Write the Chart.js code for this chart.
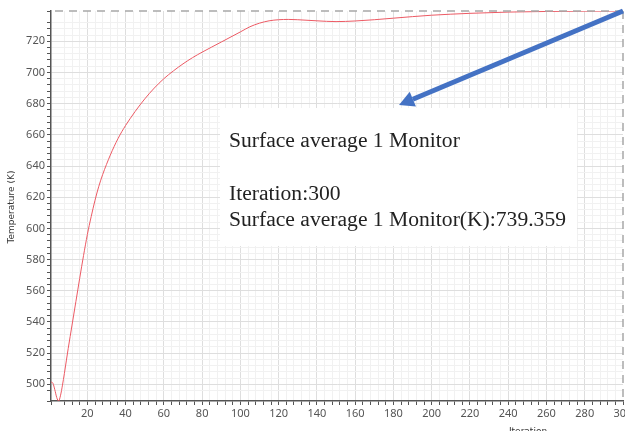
<!DOCTYPE html>
<html>
<head>
<meta charset="utf-8">
<script src="https://cdn.jsdelivr.net/npm/chart.js@4.4.0/dist/chart.umd.min.js"></script>
<style>
  html, body { margin: 0; padding: 0; background: #fff; }
  #wrap { width: 625px; height: 431px; position: relative; }
</style>
</head>
<body>
<div id="wrap"><canvas id="chart" width="625" height="431"></canvas></div>
<script>
// monitor history
const iterations = [1, 2, 3, 4, 5, 6, 7, 8, 10, 12, 14, 16, 18, 20, 22, 24, 26, 28, 30, 32, 34, 36, 38, 40, 45, 50, 55, 60, 65, 70, 75, 80, 90, 100, 105, 110, 115, 120, 125, 130, 140, 150, 160, 170, 180, 190, 200, 220, 240, 260, 280, 300];
const temperatures = [501.5, 500.7, 496.5, 491.5, 489.3, 493, 499.5, 507, 523, 538, 553, 568, 582.5, 596, 607.5, 618, 627, 634.5, 641, 647, 652.5, 657.5, 662, 666, 675, 683, 690, 696, 701, 705.5, 709.5, 713, 719.5, 726, 729.3, 731.6, 733.1, 733.8, 734, 733.8, 733.1, 732.6, 733, 733.8, 734.8, 735.8, 736.7, 737.9, 738.7, 739.1, 739.3, 739.359];

const xRange = [1, 300];
const yRange = [489.3, 739.4];

const noteTitle = "Surface average 1 Monitor";
const noteLines = ["Iteration:300", "Surface average 1 Monitor(K):739.359"];

const points = iterations.map((it, i) => ({ x: it, y: temperatures[i] }));

// major lines every 20, lighter minor lines in between
function gridColor(ctx) {
  const v = ctx.tick ? ctx.tick.value : 0;
  const s = ctx.scale;
  if (Math.abs(v - s.min) < 0.01 || Math.abs(v - s.max) < 0.01) return "rgba(0,0,0,0)";
  return Math.abs(v % 20) < 0.01 ? "#dedede" : "#f1f1f1";
}

const extras = {
  id: "extras",
  afterDraw(chart) {
    const ctx = chart.ctx;
    const a = chart.chartArea;
    ctx.save();

    // dashed frame on top and right
    ctx.strokeStyle = "#a8a8a8";
    ctx.lineWidth = 1.5;
    ctx.setLineDash([8, 6]);
    ctx.beginPath();
    ctx.moveTo(a.left + 4, a.top);
    ctx.lineTo(a.right, a.top);
    ctx.moveTo(a.right, a.top);
    ctx.lineTo(a.right, a.bottom);
    ctx.stroke();
    ctx.setLineDash([]);

    // axis titles
    ctx.fillStyle = "#333";
    ctx.font = "9px 'DejaVu Sans'";
    ctx.textAlign = "center";
    ctx.textBaseline = "middle";
    ctx.save();
    ctx.translate(12, 207);
    ctx.rotate(-Math.PI / 2);
    ctx.fillText("Temperature (K)", 0, 0);
    ctx.restore();
    ctx.textBaseline = "top";
    ctx.fillText("Iteration", 528, 427);

    // pasted annotation box
    ctx.fillStyle = "#ffffff";
    ctx.fillRect(220, 108, 357, 138);
    ctx.fillStyle = "#222";
    ctx.font = "21.6px 'Liberation Serif'";
    ctx.textAlign = "left";
    ctx.textBaseline = "alphabetic";
    ctx.fillText(noteTitle, 229, 147);
    ctx.fillText(noteLines[0], 229, 200);
    ctx.fillText(noteLines[1], 229, 226);

    // arrow from last point to the box
    const x0 = chart.scales.x.getPixelForValue(iterations[iterations.length - 1]);
    const y0 = chart.scales.y.getPixelForValue(temperatures[temperatures.length - 1]);
    const x1 = 399, y1 = 105;
    const ang = Math.atan2(y1 - y0, x1 - x0);
    const hl = 15, hw = 8;
    const bx = x1 - hl * Math.cos(ang), by = y1 - hl * Math.sin(ang);
    ctx.strokeStyle = "#4472c4";
    ctx.fillStyle = "#4472c4";
    ctx.lineWidth = 5;
    ctx.beginPath();
    ctx.moveTo(x0, y0);
    ctx.lineTo(bx, by);
    ctx.stroke();
    ctx.beginPath();
    ctx.moveTo(x1, y1);
    ctx.lineTo(bx + hw * Math.sin(ang), by - hw * Math.cos(ang));
    ctx.lineTo(bx - hw * Math.sin(ang), by + hw * Math.cos(ang));
    ctx.closePath();
    ctx.fill();

    ctx.restore();
  }
};

new Chart(document.getElementById("chart"), {
  type: "line",
  data: {
    datasets: [{
      data: points,
      borderColor: "#ec5a64",
      borderWidth: 1,
      pointRadius: 0,
      cubicInterpolationMode: "monotone",
      fill: false
    }]
  },
  options: {
    responsive: false,
    animation: false,
    layout: { padding: { top: 11, right: 2, left: 0, bottom: 0 } },
    plugins: { legend: { display: false }, tooltip: { enabled: false } },
    scales: {
      x: {
        type: "linear",
        min: xRange[0],
        max: xRange[1],
        afterFit: (s) => { s.height = 30; s.paddingRight = 0; s.paddingLeft = 0; },
        border: { color: "#555", width: 1.5 },
        grid: { color: gridColor, tickColor: "#555", tickLength: 4, lineWidth: 1 },
        ticks: {
          stepSize: 4,
          autoSkip: false,
          maxRotation: 0,
          padding: 2,
          color: "#555",
          font: { family: "'Noto Sans'", size: 11 },
          callback: (v) => (v % 20 === 0 ? v : "")
        }
      },
      y: {
        min: yRange[0],
        max: yRange[1],
        afterFit: (s) => { s.width = 51; s.paddingTop = 0; s.paddingBottom = 0; },
        border: { color: "#555", width: 1.5 },
        grid: { color: gridColor, tickColor: "#555", tickLength: 4, lineWidth: 1 },
        ticks: {
          stepSize: 4,
          autoSkip: false,
          padding: 2,
          color: "#555",
          font: { family: "'Noto Sans'", size: 11 },
          callback: (v) => (Math.abs(v % 20) < 0.01 ? Math.round(v) : "")
        }
      }
    }
  },
  plugins: [extras]
});
</script>
</body>
</html>
